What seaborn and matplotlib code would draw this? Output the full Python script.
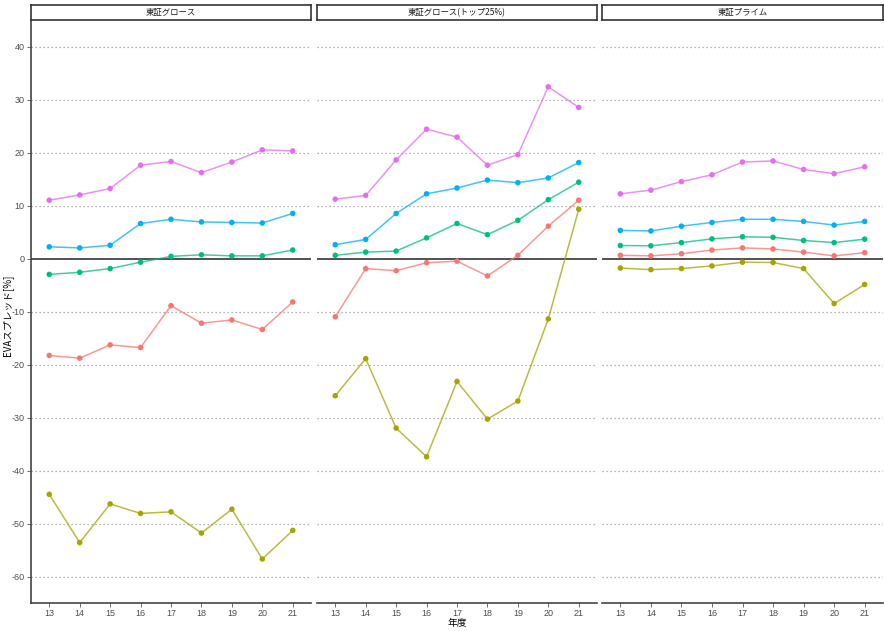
import numpy as np
import pandas as pd
import matplotlib
matplotlib.use("Agg")
import matplotlib.pyplot as plt
import seaborn as sns

# ---------------------------
# data
# ---------------------------
years = [13, 14, 15, 16, 17, 18, 19, 20, 21]
markets = ["東証グロース", "東証グロース(トップ25%)", "東証プライム"]
groups = ["系列1", "系列2", "系列3", "系列4", "系列5"]
colors = ["#F8766D", "#A3A500", "#00BF7D", "#00B0F6", "#E76BF3"]

growth_1 = [-18.3, -18.8, -16.3, -16.8, -8.9, -12.2, -11.6, -13.4, -8.2]
growth_2 = [-44.5, -53.6, -46.3, -48.1, -47.8, -51.8, -47.3, -56.7, -51.3]
growth_3 = [-3.0, -2.6, -1.9, -0.7, 0.4, 0.7, 0.5, 0.5, 1.6]
growth_4 = [2.2, 2.0, 2.5, 6.6, 7.4, 6.9, 6.8, 6.7, 8.5]
growth_5 = [11.0, 12.0, 13.2, 17.6, 18.3, 16.2, 18.2, 20.5, 20.3]

top25_1 = [-11.0, -1.9, -2.3, -0.8, -0.5, -3.3, 0.6, 6.1, 11.0]
top25_2 = [-25.9, -18.9, -32.0, -37.4, -23.2, -30.3, -26.9, -11.4, 9.3]
top25_3 = [0.6, 1.2, 1.4, 3.9, 6.6, 4.5, 7.2, 11.1, 14.4]
top25_4 = [2.6, 3.6, 8.5, 12.2, 13.3, 14.8, 14.3, 15.2, 18.1]
top25_5 = [11.2, 11.9, 18.6, 24.4, 22.9, 17.6, 19.6, 32.4, 28.5]

prime_1 = [0.6, 0.5, 0.9, 1.6, 2.0, 1.8, 1.2, 0.5, 1.1]
prime_2 = [-1.8, -2.1, -1.9, -1.4, -0.7, -0.75, -1.9, -8.5, -4.9]
prime_3 = [2.45, 2.4, 3.0, 3.7, 4.1, 4.0, 3.4, 3.0, 3.65]
prime_4 = [5.3, 5.2, 6.1, 6.8, 7.4, 7.4, 7.0, 6.3, 7.0]
prime_5 = [12.2, 12.9, 14.5, 15.8, 18.2, 18.4, 16.8, 16.0, 17.3]

series = {
    markets[0]: [growth_1, growth_2, growth_3, growth_4, growth_5],
    markets[1]: [top25_1, top25_2, top25_3, top25_4, top25_5],
    markets[2]: [prime_1, prime_2, prime_3, prime_4, prime_5],
}

rows = []
for m in markets:
    for g, vals in zip(groups, series[m]):
        for y, v in zip(years, vals):
            rows.append({"市場": m, "グループ": g, "年度": y, "EVA": v})
df = pd.DataFrame(rows)

# ---------------------------
# plot
# ---------------------------
sns.set_theme(style="white")
plt.rcParams["font.family"] = ["Noto Sans CJK JP", "DejaVu Sans"]
tick_font = ["Liberation Sans Narrow", "Liberation Sans", "DejaVu Sans"]

W, H = 884, 631
fig = plt.figure(figsize=(W / 100, H / 100), dpi=100)
pal = dict(zip(groups, colors))

lefts = [31, 317, 602]
widths = [280, 280, 281]
top_px, bot_px = 20, 603
yticks = list(range(-60, 41, 10))

for i, m in enumerate(markets):
    ax = fig.add_axes([lefts[i] / W, 1 - bot_px / H, widths[i] / W, (bot_px - top_px) / H])
    sub = df[df["市場"] == m]
    for t in yticks:
        if t != 0:
            ax.axhline(t, color="#9a9a9a", lw=0.9, ls=(0, (1, 2.2)), zorder=0)
    ax.axhline(0, color="#333333", lw=1.2, zorder=1)
    sns.lineplot(data=sub, x="年度", y="EVA", hue="グループ", palette=pal,
                 ax=ax, legend=False, lw=1.1, alpha=0.75, zorder=2)
    sns.scatterplot(data=sub, x="年度", y="EVA", hue="グループ", palette=pal,
                    ax=ax, legend=False, s=16, linewidth=0, zorder=3)
    ax.set_xlim(12.4, 21.6)
    ax.set_ylim(-65, 45)
    ax.set_xticks(years)
    ax.set_xticklabels([str(y) for y in years], fontsize=6.5, color="#4D4D4D", family=tick_font)
    ax.set_yticks(yticks)
    ax.tick_params(axis="both", length=3, width=0.6, color="#555555", pad=1.5, direction="out")
    ax.tick_params(axis="x", bottom=True)
    ax.set_xlabel("")
    ax.set_ylabel("")
    for s in ["top", "right"]:
        ax.spines[s].set_visible(False)
    ax.spines["bottom"].set_color("#444444")
    ax.spines["bottom"].set_linewidth(1.2)
    if i == 0:
        ax.set_yticklabels([str(t) for t in yticks], fontsize=6.5, color="#4D4D4D", family=tick_font)
        ax.tick_params(axis="y", left=True)
        ax.spines["left"].set_color("#444444")
        ax.spines["left"].set_linewidth(1.2)
    else:
        ax.set_yticklabels([])
        ax.tick_params(axis="y", left=False)
        ax.spines["left"].set_visible(False)

    # facet strip
    sax = fig.add_axes([lefts[i] / W, 1 - 19.5 / H, widths[i] / W, 14.5 / H])
    sax.set_xticks([])
    sax.set_yticks([])
    sax.set_facecolor("white")
    for s in sax.spines.values():
        s.set_color("#333333")
        s.set_linewidth(1.2)
    sax.text(0.5, 0.5, m, ha="center", va="center", fontsize=6, color="#1A1A1A",
             transform=sax.transAxes)

fig.text(457 / W, 1 - 623 / H, "年度", ha="center", va="center", fontsize=7, color="black")
fig.text(8 / W, 1 - 315 / H, "EVAスプレッド[%]", ha="center", va="center", rotation=90,
         fontsize=7, color="black")

plt.savefig("out.png", dpi=100)
